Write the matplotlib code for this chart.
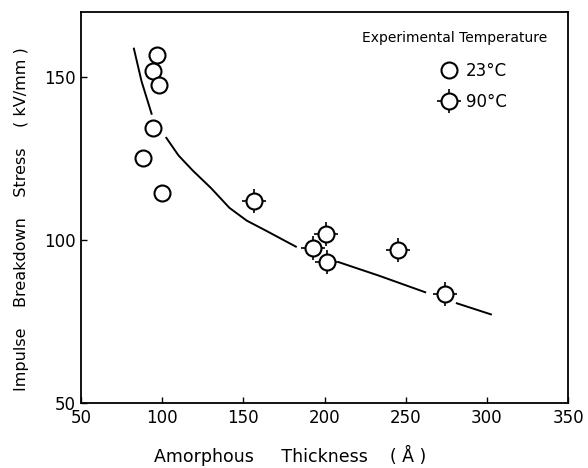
import numpy as np
import matplotlib
matplotlib.use("Agg")
import matplotlib.pyplot as plt
from matplotlib.legend_handler import HandlerTuple

# measured points, 23 C
x23 = [97, 94, 98, 94, 88, 99.7]
y23 = [157, 151.8, 147.5, 134.4, 125.2, 114.5]

# measured points, 90 C
x90 = [156.7, 201, 193, 201.5, 245, 274.5]
y90 = [112, 101.8, 97.5, 93.3, 97, 83.5]

# drawn trend curve (nan = break in the line around markers)
curve_x = [82.5, 87.2, 93.4, np.nan,
           102.5, 110, 118.9, 130, 141.4, 152, 163.9, 182.3, np.nan,
           208.9, 233.4, 262, np.nan,
           281.5, 302.5]
curve_y = [158.8, 148.8, 138.8, np.nan,
           131.4, 126, 121.3, 116, 109.9, 106, 102.9, 98, np.nan,
           93.2, 89.1, 84, np.nan,
           80.6, 77.2]

plt.rcParams['font.family'] = ['DejaVu Sans']

fig = plt.figure(figsize=(5.88, 4.68), dpi=100)
ax = fig.add_axes([0.138, 0.139, 0.828, 0.835])

ax.plot(curve_x, curve_y, color='black', lw=1.4, zorder=1)

ms = 11.5
ax.plot(x23, y23, 'o', ms=ms, mfc='white', mec='black', mew=1.5, zorder=3)

cross, = ax.plot(x90, y90, '+', ms=17, mec='black', mew=1.2, zorder=2)
circ90, = ax.plot(x90, y90, 'o', ms=ms, mfc='white', mec='black', mew=1.5, zorder=3)

h23, = ax.plot([], [], 'o', ms=ms, mfc='white', mec='black', mew=1.5)

ax.set_xlim(50, 350)
ax.set_ylim(50, 170)
ax.set_xticks([50, 100, 150, 200, 250, 300, 350])
ax.set_yticks([50, 100, 150])
ax.tick_params(direction='in', length=4, width=1, labelsize=12, pad=4)
for s in ax.spines.values():
    s.set_linewidth(1.3)

ax.set_xlabel("Amorphous     Thickness    ( Å )", fontsize=12.5)
ax.xaxis.set_label_coords(0.43, -0.108)
ax.set_ylabel("Impulse    Breakdown    Stress    ( kV/mm )", fontsize=11.5)
ax.yaxis.set_label_coords(-0.108, 0.47)

ax.text(0.957, 0.934, "Experimental Temperature", transform=ax.transAxes,
        ha='right', va='center', fontsize=10)

leg = ax.legend([h23, (cross, circ90)], ["23°C", "90°C"],
                handler_map={tuple: HandlerTuple(ndivide=1, pad=0)},
                fontsize=12, frameon=False, loc='upper left',
                bbox_to_anchor=(0.735, 0.872), borderpad=0, borderaxespad=0,
                handlelength=1.2, handletextpad=0.4, labelspacing=0.75)

fig.savefig("out.png", dpi=100)
